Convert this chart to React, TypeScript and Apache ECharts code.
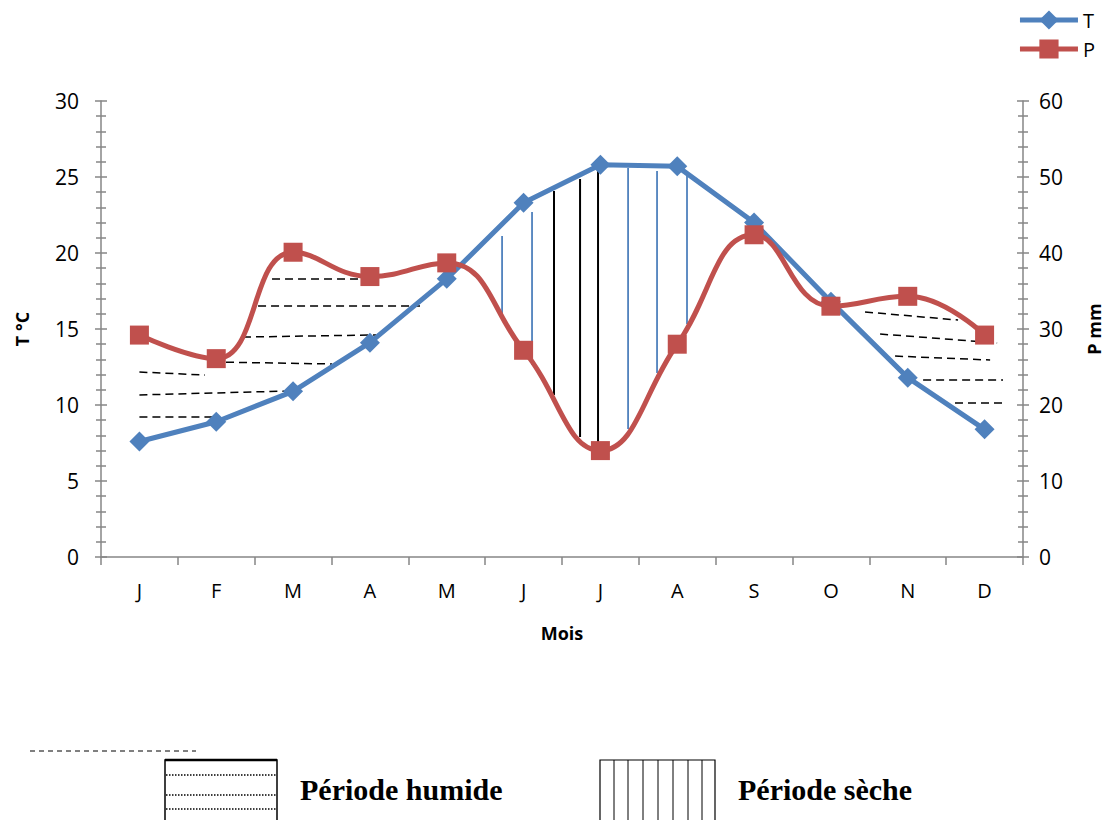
import React, { useEffect, useRef } from "react";
import * as echarts from "echarts";

const months = ["J", "F", "M", "A", "M", "J", "J", "A", "S", "O", "N", "D"];
const temperature = [7.6, 8.9, 10.9, 14.1, 18.3, 23.3, 25.8, 25.7, 22.0, 16.8, 11.8, 8.4];
const precipitation = [29.2, 26.1, 40.1, 36.9, 38.7, 27.2, 14.0, 28.0, 42.4, 33.0, 34.3, 29.2];

const tTicks = { min: 0, max: 30, interval: 5 };
const pTicks = { min: 0, max: 60, interval: 10 };

// hatch segments: [x1 (month index), T1, x2, T2]
const humidHatch = [
  [1.726, 18.29, 2.871, 18.29],
  [1.544, 16.51, 3.652, 16.51],
  [1.348, 14.47, 3.08, 14.61],
  [0.958, 12.83, 2.507, 12.7],
  [0.0, 12.17, 0.854, 11.97],
  [0.0, 10.66, 1.934, 10.92],
  [0.0, 9.21, 1.023, 9.21],
  [9.444, 16.12, 10.655, 15.59],
  [9.64, 14.67, 11.163, 14.08],
  [9.835, 13.22, 11.072, 12.96],
  [10.2, 11.64, 11.24, 11.64],
  [10.615, 10.13, 11.25, 10.13],
];
const dryHatchBlue = [
  [4.72, 21.12, 4.72, 15.99],
  [5.11, 22.7, 5.11, 12.63],
  [6.36, 25.59, 6.36, 8.42],
  [6.737, 25.39, 6.737, 12.11],
  [7.127, 25.2, 7.127, 15.33],
];
const dryHatchBlack = [
  [5.396, 24.08, 5.396, 10.66],
  [5.735, 24.87, 5.735, 7.89],
  [5.969, 25.59, 5.969, 7.24],
];

const BLUE = "#4F81BD";
const RED = "#C0504D";
const AXIS = "#868686";
const FONT = "'Open Sans', sans-serif";

function hatchSeries(name: string, data: number[][], stroke: string, width: number, dash: number[] | null) {
  return {
    type: "custom",
    name,
    xAxisIndex: 1,
    yAxisIndex: 0,
    silent: true,
    z: 1,
    encode: { x: [0, 2], y: [1, 3] },
    data,
    renderItem: (params: any, api: any) => {
      const a = api.coord([api.value(0), api.value(1)]);
      const b = api.coord([api.value(2), api.value(3)]);
      return {
        type: "line",
        shape: { x1: a[0], y1: a[1], x2: b[0], y2: b[1] },
        style: { stroke, lineWidth: width, lineDash: dash || undefined, fill: null },
      };
    },
  };
}

export default function App() {
  const ref = useRef<HTMLDivElement>(null);
  useEffect(() => {
    if (!ref.current) return;
    const chart = echarts.init(ref.current, null, { renderer: "svg" });
    const tickCommon = { lineStyle: { color: AXIS, width: 1.5 } };
    const minor = { show: true, splitNumber: 5, length: 5, lineStyle: { color: AXIS, width: 1.5 } };
    const nameStyle = { fontWeight: "bold", fontSize: 18, color: "#000", fontFamily: FONT };
    const humidBoxLines = [775, 795, 809].map((y) => ({
      type: "line",
      shape: { x1: 166, y1: y, x2: 276, y2: y },
      style: { stroke: "#000", lineWidth: 1.5, lineDash: [1.5, 1.5] },
    }));
    const dryBoxLines = [614, 628, 643, 658, 673, 688, 702].map((x) => ({
      type: "line",
      shape: { x1: x, y1: 760, x2: x, y2: 830 },
      style: { stroke: "#000", lineWidth: 1 },
    }));
    const serif = "bold 30px 'Liberation Serif', 'Times New Roman', serif";
    chart.setOption({
      animation: false,
      textStyle: { fontFamily: FONT },
      grid: { left: 101, right: 85, top: 101, bottom: 263, containLabel: false, outerBoundsMode: "none" },
      legend: {
        data: ["T", "P"],
        orient: "vertical",
        right: 8,
        top: 5,
        itemWidth: 58,
        itemHeight: 24,
        itemGap: 9,
        lineStyle: { width: 5 },
        textStyle: { fontSize: 20, color: "#000", fontFamily: FONT },
      },
      xAxis: [
        {
          type: "category",
          data: months,
          name: "Mois",
          nameLocation: "middle",
          nameGap: 67,
          nameTextStyle: nameStyle,
          axisLine: { lineStyle: { color: AXIS, width: 1.5 } },
          axisTick: { show: true, length: 8, ...tickCommon },
          axisLabel: { fontSize: 20, color: "#000", margin: 23, fontFamily: FONT },
        },
        {
          type: "value",
          min: -0.5,
          max: 11.5,
          show: false,
        },
      ],
      yAxis: [
        {
          type: "value",
          ...tTicks,
          position: "left",
          name: "T °C",
          nameLocation: "middle",
          nameRotate: 90,
          nameGap: 70,
          nameTextStyle: nameStyle,
          axisLine: { show: true, onZero: false, lineStyle: { color: AXIS, width: 1.5 } },
          axisTick: { show: true, length: 6, ...tickCommon },
          minorTick: minor,
          axisLabel: { fontSize: 21, color: "#000", margin: 22, fontFamily: FONT },
          splitLine: { show: false },
        },
        {
          type: "value",
          ...pTicks,
          position: "right",
          name: "P mm",
          nameLocation: "middle",
          nameRotate: 90,
          nameGap: 62,
          nameTextStyle: nameStyle,
          axisLine: { show: true, onZero: false, lineStyle: { color: AXIS, width: 1.5 } },
          axisTick: { show: true, length: 6, ...tickCommon },
          minorTick: minor,
          axisLabel: { fontSize: 21, color: "#000", margin: 16, fontFamily: FONT },
          splitLine: { show: false },
        },
        {
          type: "value",
          ...tTicks,
          position: "left",
          axisLine: { show: false, onZero: false },
          axisTick: { show: true, inside: true, length: 6, ...tickCommon },
          minorTick: minor,
          axisLabel: { show: false },
          splitLine: { show: false },
        },
        {
          type: "value",
          ...pTicks,
          position: "right",
          axisLine: { show: false, onZero: false },
          axisTick: { show: true, inside: true, length: 6, ...tickCommon },
          minorTick: minor,
          axisLabel: { show: false },
          splitLine: { show: false },
        },
      ],
      series: [
        hatchSeries("humid", humidHatch, "#000", 1.5, [8, 5]),
        hatchSeries("dryBlue", dryHatchBlue, BLUE, 1.8, null),
        hatchSeries("dryBlack", dryHatchBlack, "#000", 2, null),
        {
          name: "T",
          type: "line",
          data: temperature,
          yAxisIndex: 0,
          z: 3,
          symbol: "diamond",
          symbolSize: 20,
          itemStyle: { color: BLUE },
          lineStyle: { color: BLUE, width: 5 },
        },
        {
          name: "P",
          type: "line",
          data: precipitation,
          yAxisIndex: 1,
          z: 4,
          smooth: 0.45,
          symbol: "rect",
          symbolSize: 19,
          itemStyle: { color: RED },
          lineStyle: { color: RED, width: 5 },
        },
      ],
      graphic: [
        {
          type: "line",
          shape: { x1: 30, y1: 751, x2: 196, y2: 751 },
          style: { stroke: "#000", lineWidth: 1, lineDash: [5, 4] },
        },
        {
          type: "rect",
          shape: { x: 165, y: 760, width: 112, height: 80 },
          style: { stroke: "#000", lineWidth: 1.5, fill: "none" },
        },
        {
          type: "line",
          shape: { x1: 165, y1: 760, x2: 277, y2: 760 },
          style: { stroke: "#000", lineWidth: 2.5 },
        },
        ...humidBoxLines,
        {
          type: "rect",
          shape: { x: 600, y: 760, width: 115, height: 80 },
          style: { stroke: "#000", lineWidth: 1.2, fill: "none" },
        },
        ...dryBoxLines,
        {
          type: "text",
          x: 300,
          y: 789,
          style: { text: "Période humide", font: serif, fill: "#000", verticalAlign: "middle" },
        },
        {
          type: "text",
          x: 738,
          y: 789,
          style: { text: "Période sèche", font: serif, fill: "#000", verticalAlign: "middle" },
        },
      ],
    });
    return () => chart.dispose();
  }, []);
  return <div ref={ref} style={{ width: 1108, height: 820, position: "absolute", left: 0, top: 0 }} />;
}
